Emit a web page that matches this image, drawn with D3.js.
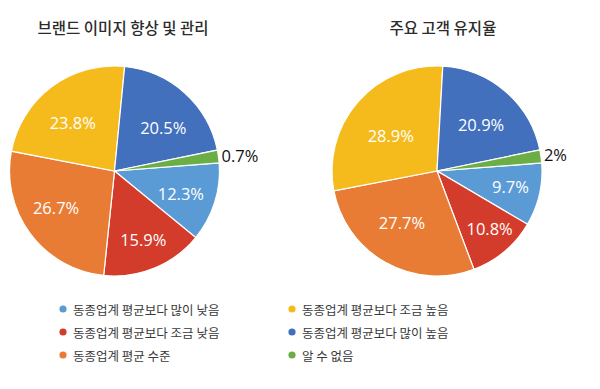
<!DOCTYPE html>
<html>
<head>
<meta charset="utf-8">
<script src="https://cdn.jsdelivr.net/npm/d3@7"></script>
<style>
  html, body { margin: 0; padding: 0; background: #fff; }
  svg { display: block; }
</style>
</head>
<body>
<svg id="chart" width="600" height="389"></svg>
<script>
// categories in series order (legend: first column then second column)
var categories = [
  "동종업계 평균보다 많이 낮음",
  "동종업계 평균보다 조금 낮음",
  "동종업계 평균 수준",
  "동종업계 평균보다 조금 높음",
  "동종업계 평균보다 많이 높음",
  "알 수 없음"
];
var colors = ["#5b9bd5", "#d33b2b", "#e97c34", "#f5bb1d", "#4270bc", "#6aae45"];

var chartTitles = ["브랜드 이미지 향상 및 관리", "주요 고객 유지율"];

// left chart: the green slice is drawn about 2% wide although its label reads 0.7%
var brandValues = [12.3, 15.9, 26.7, 23.8, 20.5, 2.0];
var brandLabels = ["12.3%", "15.9%", "26.7%", "23.8%", "20.5%", "0.7%"];

var retentionValues = [9.7, 10.8, 27.7, 28.9, 20.9, 2];
var retentionLabels = ["9.7%", "10.8%", "27.7%", "28.9%", "20.9%", "2%"];

// label placement (best-fit look): radius as share of R, angle nudge in degrees
var brandLabelPos = { r: [0.665, 0.697, 0.652, 0.615, 0.628], nudge: [0.6, -0.8, 5.2, -3.5, 5.7] };
var retentionLabelPos = { r: [0.714, 0.734, 0.589, 0.558, 0.618], nudge: [-1.6, -3.0, 5.3, -3.2, 2.0] };

var svg = d3.select("#chart");
var R = 105;
var startAngle = 85.6 * Math.PI / 180;

var pie = d3.pie()
  .sort(null)
  .startAngle(startAngle)
  .endAngle(startAngle + 2 * Math.PI);

var arc = d3.arc().innerRadius(0).outerRadius(R);

function drawPie(cx, cy, titleX, title, values, labels, pos) {

  svg.append("text")
    .attr("x", titleX)
    .attr("y", 34)
    .attr("text-anchor", "middle")
    .attr("font-family", "'Noto Sans CJK KR', sans-serif")
    .attr("font-size", 15.5)
    .attr("font-weight", 500)
    .attr("fill", "#2b2b2b")
    .text(title);

  var g = svg.append("g").attr("transform", "translate(" + cx + "," + cy + ")");
  var arcs = pie(values);

  g.selectAll("path")
    .data(arcs)
    .enter().append("path")
    .attr("d", arc)
    .attr("fill", function(d, i){ return colors[i]; })
    .attr("stroke", "#fff")
    .attr("stroke-width", 1.2);

  // labels, the last (small) slice gets its label outside
  g.selectAll("text.lbl")
    .data(arcs)
    .enter().append("text")
    .attr("class", "lbl")
    .attr("font-family", "'Open Sans', sans-serif")
    .attr("font-size", 16.5)
    .attr("dominant-baseline", "central")
    .each(function(d, i){
      var t = d3.select(this);
      var mid = (d.startAngle + d.endAngle) / 2;
      if (i == labels.length - 1) {
        t.attr("x", Math.sin(mid) * (R + 3))
          .attr("y", -Math.cos(mid) * (R + 3) - 1)
          .attr("text-anchor", "start")
          .attr("fill", "#111");
      } else {
        var a = mid + pos.nudge[i] * Math.PI / 180;
        var r = R * pos.r[i];
        t.attr("x", Math.sin(a) * r)
          .attr("y", -Math.cos(a) * r + 1)
          .attr("text-anchor", "middle")
          .attr("fill", "#fff");
      }
      t.text(labels[i]);
    });
}

drawPie(114.5, 171, 123, chartTitles[0], brandValues, brandLabels, brandLabelPos);
drawPie(437, 171, 443, chartTitles[1], retentionValues, retentionLabels, retentionLabelPos);

// legend: two columns of three
var legend = svg.append("g");
var legendCols = [63, 292];
var legendRows = [309, 332, 355];

var items = legend.selectAll("g")
  .data(categories)
  .enter().append("g")
  .attr("transform", function(d, i){
    return "translate(" + legendCols[Math.floor(i / 3)] + "," + legendRows[i % 3] + ")";
  });

items.append("circle")
  .attr("r", 3.6)
  .attr("fill", function(d, i){ return colors[i]; });

items.append("text")
  .attr("x", 10)
  .attr("dominant-baseline", "central")
  .attr("font-family", "'Noto Sans CJK KR', sans-serif")
  .attr("font-size", 12.5)
  .attr("fill", "#3a3a3a")
  .text(function(d){ return d; });
</script>
</body>
</html>
